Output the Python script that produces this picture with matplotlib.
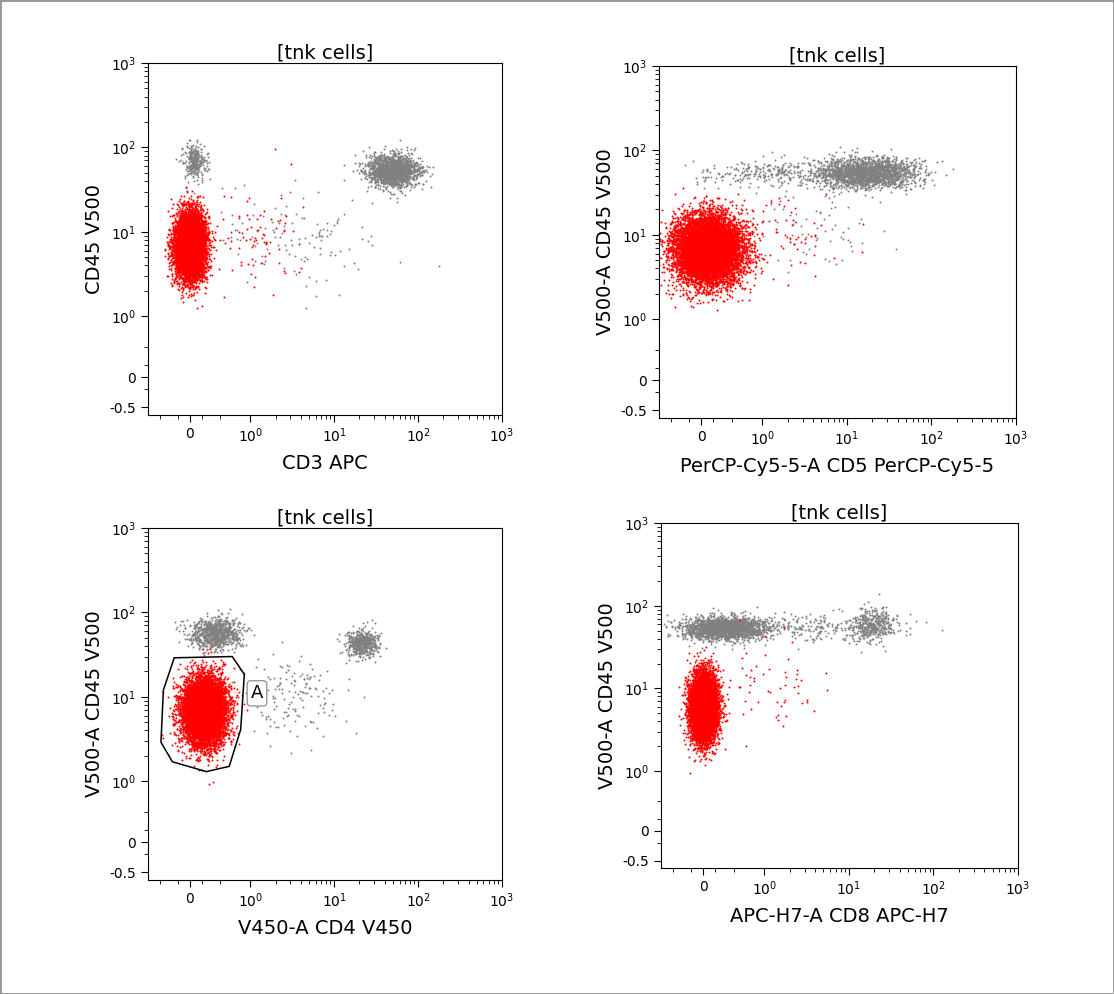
import numpy as np
import matplotlib
matplotlib.use("Agg")
import matplotlib.pyplot as plt
from matplotlib.patches import Polygon

# ---- data (cluster descriptors, in display-decade units) ----
titles = ["[tnk cells]"] * 4
xlabels = ["CD3 APC", "PerCP-Cy5-5-A CD5 PerCP-Cy5-5", "V450-A CD4 V450", "APC-H7-A CD8 APC-H7"]
ylabels = ["CD45 V500", "V500-A CD45 V500", "V500-A CD45 V500", "V500-A CD45 V500"]
# (n, x_center, y_center, x_sd, y_sd, color)  positions: p=A*v (|v|<=1), A+log10(v) (v>1)
clusters = [
    [(7000, 0.0, 1.55, 0.09, 0.2, "red"), (1500, 2.42, 2.45, 0.16, 0.1, "grey"),
     (300, 0.05, 2.55, 0.07, 0.1, "grey"), (120, 1.3, 1.7, 0.5, 0.3, "grey"), (80, 0.8, 1.6, 0.3, 0.3, "red")],
    [(9000, 0.08, 1.55, 0.2, 0.2, "red"), (1800, 1.95, 2.45, 0.3, 0.09, "grey"),
     (300, 0.9, 2.45, 0.5, 0.08, "grey"), (80, 1.3, 1.8, 0.4, 0.3, "grey"), (60, 1.0, 1.7, 0.3, 0.3, "red")],
    [(8000, 0.17, 1.55, 0.13, 0.2, "red"), (500, 2.05, 2.35, 0.1, 0.08, "grey"),
     (800, 0.3, 2.47, 0.15, 0.09, "grey"), (150, 1.2, 1.75, 0.35, 0.25, "grey")],
    [(7000, 0.0, 1.5, 0.08, 0.2, "red"), (1800, 0.25, 2.45, 0.25, 0.07, "grey"),
     (350, 2.0, 2.5, 0.13, 0.1, "grey"), (250, 1.3, 2.45, 0.5, 0.08, "grey"), (60, 0.8, 1.75, 0.35, 0.3, "red")],
]
gate_x = [-0.26, 0.7, 0.9, 0.84, 0.65, 0.27, -0.29, -0.48, -0.44]
gate_y = [29, 30, 18.5, 4.1, 1.5, 1.3, 1.7, 2.9, 12]

A = 0.72
def fwd(v):
    v = np.asarray(v, float)
    a = np.abs(v)
    return np.where(a <= 1, A * v, np.sign(v) * (A + np.log10(np.maximum(a, 1))))
def inv(p):
    p = np.asarray(p, float)
    a = np.abs(p)
    return np.where(a <= A, p / A, np.sign(p) * 10 ** (np.maximum(a, A) - A))

fig = plt.figure(figsize=(11.14, 9.94), dpi=100)
fig.patch.set_edgecolor("#999999"); fig.patch.set_linewidth(2)
W, H = 1114, 994
boxes = [(148, 63, 502, 415), (659, 66, 1016, 418), (148, 528, 502, 880), (661, 523, 1018, 868)]
rng = np.random.default_rng(3)
majors = [-0.5, 0, 1, 10, 100, 1000]
minors = [m * 10 ** d for d in range(0, 3) for m in range(2, 10)] + [0.5, -0.2, 0.2]
for i, (l, t, r, b) in enumerate(boxes):
    ax = fig.add_axes([l / W, 1 - b / H, (r - l) / W, (b - t) / H])
    ax.set_xscale("function", functions=(fwd, inv))
    ax.set_yscale("function", functions=(fwd, inv))
    for (n, cx, cy, sx, sy, c) in clusters[i]:
        px = rng.normal(cx, sx, n); py = rng.normal(cy, sy, n)
        ax.scatter(inv(px), inv(py), s=2.0, c=c if c == "red" else "#808080", linewidths=0, zorder=2 if c == "red" else 1)
    ax.set_xlim(inv(-0.5), 1000)
    ax.set_ylim(inv(-0.45), 1000)
    ax.set_xticks([0, 1, 10, 100, 1000])
    ax.set_xticklabels(["0", "10$^{0}$", "10$^{1}$", "10$^{2}$", "10$^{3}$"], fontsize=10)
    ax.set_yticks(majors)
    ax.set_yticklabels(["-0.5", "0", "10$^{0}$", "10$^{1}$", "10$^{2}$", "10$^{3}$"], fontsize=10)
    ax.set_xticks(minors + [-0.5], minor=True)
    ax.set_yticks(minors, minor=True)
    ax.tick_params(which="major", length=5, direction="out")
    ax.tick_params(which="minor", length=3, direction="out")
    ax.set_title(titles[i], fontsize=14, pad=3)
    ax.set_xlabel(xlabels[i], fontsize=14, labelpad=6)
    ax.set_ylabel(ylabels[i], fontsize=14, labelpad=4)
    if i == 2:
        ax.add_patch(Polygon(np.column_stack([gate_x, gate_y]), closed=True, fill=False,
                             ec="black", lw=1.1, zorder=3))
        ax.text(1.2, 11, "A", fontsize=13, ha="center", va="center", zorder=4,
                bbox=dict(boxstyle="round,pad=0.2", fc="white", ec="#999999"))
fig.savefig("out.png", dpi=100, edgecolor=fig.get_edgecolor())
